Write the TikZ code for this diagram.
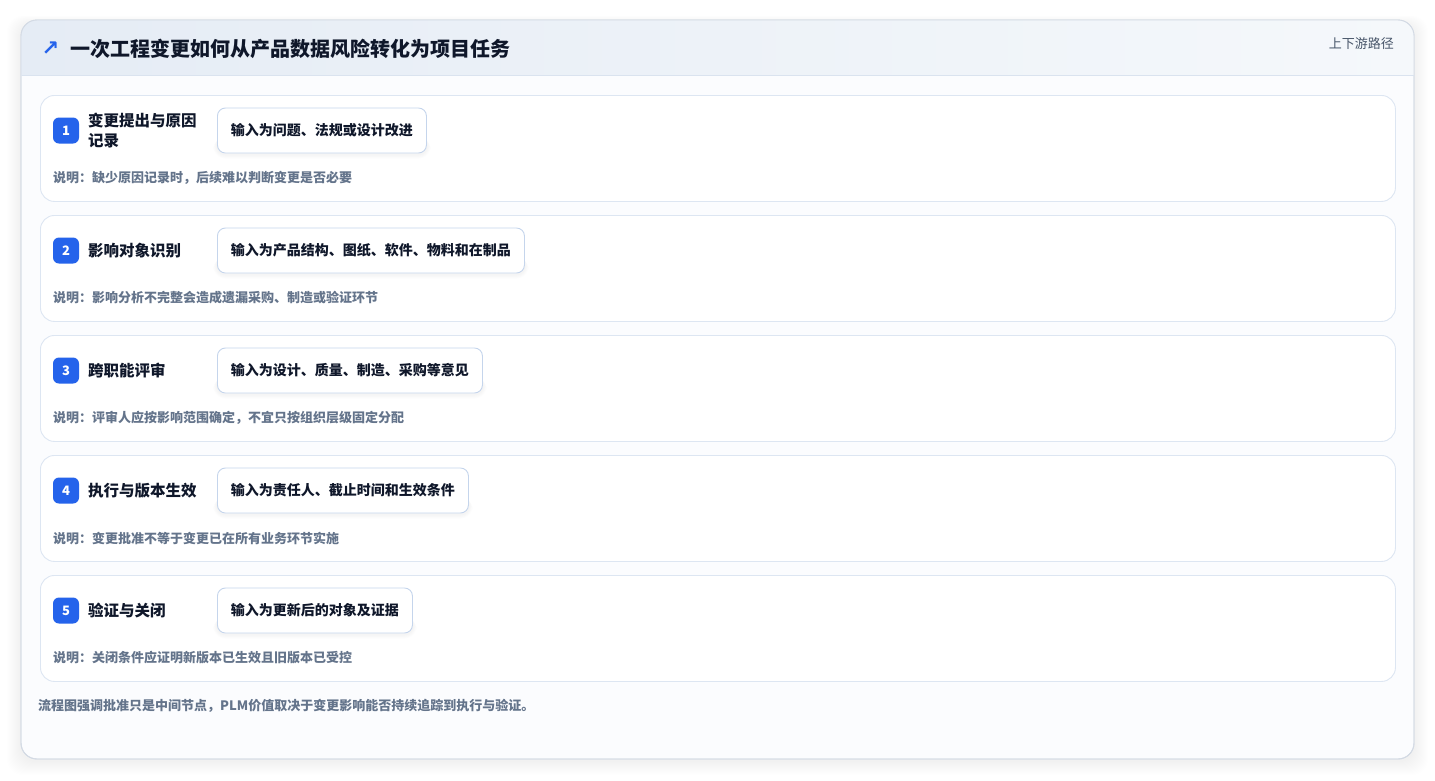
\documentclass[tikz,border=0pt]{standalone}
\usepackage{fontspec}
\setmainfont{Noto Sans CJK SC}
\newfontfamily\symfont{DejaVu Sans}
\usetikzlibrary{calc}
\definecolor{badgeblue}{HTML}{2563EB}
\definecolor{titlecol}{HTML}{0F172A}
\definecolor{notecol}{HTML}{64748B}
\definecolor{subcol}{HTML}{475569}
\definecolor{rowborder}{HTML}{DDE6F2}
\definecolor{inborder}{HTML}{C5D5EC}
\definecolor{cardborder}{HTML}{D3DAE4}
\definecolor{hdrL}{HTML}{E5ECF5}
\definecolor{hdrR}{HTML}{F5F8FB}
\definecolor{bodybg}{HTML}{FBFCFE}
\definecolor{hdrline}{HTML}{DAE3EF}
\tikzset{
  rowbox/.style={draw=rowborder, line width=0.9pt, fill=white, rounded corners=14pt, minimum width=1355pt, minimum height=106pt, anchor=north west, inner sep=0pt},
  badge/.style={fill=badgeblue, rounded corners=6pt, minimum size=26pt, inner sep=0pt, text=white, font=\bfseries\fontsize{13}{13}\selectfont},
  steptitle/.style={anchor=west, inner sep=0pt, align=left, text=titlecol, font=\bfseries\fontsize{15.5}{20}\selectfont},
  inbox/.style={draw=inborder, line width=0.9pt, fill=white, rounded corners=8pt, anchor=west, inner xsep=13.5pt, inner ysep=0pt, minimum height=45pt, text=titlecol, font=\bfseries\fontsize{14}{16}\selectfont},
  notetxt/.style={anchor=west, inner sep=0pt, text=notecol, font=\bfseries\fontsize{13}{15}\selectfont},
}
\begin{document}
\begin{tikzpicture}[x=1pt,y=-1pt]
\useasboundingbox (0,0) rectangle (1435,780);
\fill[white] (0,0) rectangle (1435,780);
% outer shadow
\foreach \i in {1,...,14}{
  \fill[black, opacity=0.0045, rounded corners=16pt] ($(21,24)+(-\i,-0.6*\i)$) rectangle ($(1414,761)+(\i,\i)$);
}
% card
\draw[draw=cardborder, line width=0.9pt, fill=bodybg, rounded corners=16pt] (21,20) rectangle (1414,759);
\begin{scope}
  \clip[rounded corners=16pt] (21,20) rectangle (1414,759);
  \shade[left color=hdrL, right color=hdrR] (21,20) rectangle (1414,75);
\end{scope}
\draw[draw=cardborder, line width=0.9pt, rounded corners=16pt] (21,20) rectangle (1414,759);
\draw[hdrline, line width=0.9pt] (21.5,75) -- (1413.5,75);
% header texts
\node[anchor=center, inner sep=0pt, text=badgeblue, font=\symfont\bfseries\fontsize{21}{21}\selectfont] (arrow) at (50.5,49) {↗};
\node[anchor=west, inner sep=0pt, text=titlecol, font=\bfseries\fontsize{20}{24}\selectfont] (title) at (70,49) {一次工程变更如何从产品数据风险转化为项目任务};
\node[anchor=east, inner sep=0pt, text=subcol, font=\fontsize{13}{15}\selectfont] (tag) at (1394,44) {上下游路径};
% rows
\foreach \i/\t/\inp/\note in {
  1/{变更提出与原因\\记录}/{输入为问题、法规或设计改进}/{说明：缺少原因记录时，后续难以判断变更是否必要},
  2/{影响对象识别}/{输入为产品结构、图纸、软件、物料和在制品}/{说明：影响分析不完整会造成遗漏采购、制造或验证环节},
  3/{跨职能评审}/{输入为设计、质量、制造、采购等意见}/{说明：评审人应按影响范围确定，不宜只按组织层级固定分配},
  4/{执行与版本生效}/{输入为责任人、截止时间和生效条件}/{说明：变更批准不等于变更已在所有业务环节实施},
  5/{验证与关闭}/{输入为更新后的对象及证据}/{说明：关闭条件应证明新版本已生效且旧版本已受控}}{
  \pgfmathsetmacro{\top}{95+120*(\i-1)}
  \node[rowbox] (row\i) at (40,\top) {};
  \node[badge] (badge\i) at (66,\top+35.5) {\i};
  \node[steptitle] (step\i) at (88,\top+35.5) {\t};
  \node[inbox, draw=none, fill=none, text opacity=0] (ghost\i) at (217,\top+35.5) {\inp};
  \foreach \k in {1,...,5}{
    \fill[black, opacity=0.008, rounded corners=8pt+\k pt] ($(ghost\i.south west)+(-\k*0.8,\k*0.3-18)$) rectangle ($(ghost\i.south east)+(\k*0.8,\k*0.9+1)$);
  }
  \node[inbox] (inp\i) at (217,\top+35.5) {\inp};
  \node[notetxt] (note\i) at (53,\top+83) {\note};
}
% footer
\node[anchor=west, inner sep=0pt, text=notecol, font=\bfseries\fontsize{13}{15}\selectfont] (footer) at (38,706) {流程图强调批准只是中间节点，PLM价值取决于变更影响能否持续追踪到执行与验证。};
\end{tikzpicture}
\end{document}
